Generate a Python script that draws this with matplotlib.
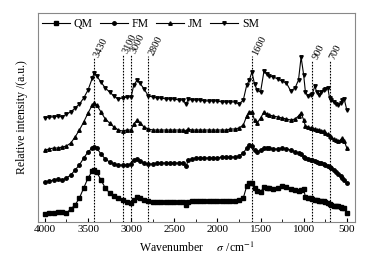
import numpy as np
import matplotlib
matplotlib.use("Agg")
import matplotlib.pyplot as plt

plt.rcParams['font.family'] = ['Liberation Serif', 'DejaVu Serif']
plt.rcParams['mathtext.fontset'] = 'stix'

# wavenumber grid (cm-1)
wn = [4000, 3950, 3900, 3850, 3800, 3750, 3700, 3650, 3600, 3550, 3500, 3450, 3430, 3400,
      3350, 3300, 3250, 3200, 3150, 3100, 3050, 3000, 2970, 2930, 2900, 2850, 2800, 2750,
      2700, 2650, 2600, 2550, 2500, 2450, 2400, 2360, 2340, 2300, 2250, 2200, 2150, 2100,
      2050, 2000, 1950, 1900, 1850, 1800, 1750, 1700, 1660, 1630, 1600, 1570, 1540, 1500,
      1460, 1430, 1400, 1350, 1300, 1250, 1200, 1150, 1100, 1060, 1030, 1000, 980, 950,
      920, 900, 870, 850, 820, 800, 770, 750, 720, 700, 680, 650, 620, 600, 570, 550, 530, 500]

qm = [8, 9, 9, 10, 10, 9, 13, 17, 24, 34, 44, 51, 52, 50,
      42, 34, 29, 26, 24, 22, 20, 19, 22, 25, 24, 22, 21, 20,
      20, 20, 20, 20, 20, 20, 20, 17, 20, 21, 21, 21, 21, 21,
      21, 21, 21, 21, 21, 21, 22, 24, 36, 39, 39, 34, 31, 30,
      35, 34, 34, 33, 34, 36, 35, 33, 32, 31, 32, 33, 25, 24,
      24, 23, 22, 22, 21, 21, 21, 20, 19, 18, 17, 16, 16, 16, 15, 14, 14, 9]

fm = [40, 41, 42, 43, 42, 44, 47, 52, 57, 64, 70, 74, 75, 74,
      68, 63, 60, 58, 57, 57, 57, 58, 62, 63, 61, 59, 58, 58,
      59, 59, 59, 59, 59, 59, 59, 56, 62, 63, 64, 64, 64, 64,
      64, 64, 65, 65, 65, 65, 66, 69, 74, 77, 76, 72, 70, 72,
      74, 74, 74, 73, 73, 74, 73, 72, 70, 69, 68, 65, 64, 63,
      62, 62, 61, 60, 59, 59, 58, 57, 56, 55, 54, 52, 50, 48, 46, 44, 42, 39]

jm = [72, 73, 74, 74, 75, 76, 79, 85, 92, 100, 109, 117, 119, 117,
      110, 103, 99, 95, 92, 91, 92, 92, 98, 102, 99, 95, 93, 92,
      92, 92, 92, 92, 92, 92, 92, 91, 93, 92, 92, 92, 92, 92,
      92, 92, 92, 92, 93, 93, 94, 97, 106, 110, 110, 102, 99, 104,
      110, 108, 107, 106, 105, 104, 103, 102, 103, 106, 109, 102, 96, 95,
      94, 94, 93, 92, 92, 91, 91, 89, 88, 86, 85, 83, 82, 81, 82, 84, 81, 74]

sm = [104, 105, 105, 106, 105, 108, 110, 114, 118, 124, 132, 144, 149, 146,
      140, 134, 130, 126, 123, 124, 125, 125, 137, 142, 139, 133, 126, 125,
      124, 124, 123, 123, 123, 122, 122, 118, 123, 122, 122, 122, 121, 121,
      121, 121, 120, 120, 120, 120, 118, 122, 137, 142, 150, 138, 132, 130,
      151, 148, 146, 145, 143, 141, 139, 131, 134, 142, 165, 147, 130, 126,
      127, 128, 136, 130, 127, 130, 132, 133, 134, 124, 122, 120, 118, 117, 119, 122, 123, 112]

series = [("QM", qm, "s"), ("FM", fm, "o"), ("JM", jm, "^"), ("SM", sm, "v")]

# marked bands and how high their dotted lines reach
bands = [3430, 3100, 3000, 2800, 1600, 900, 700]
band_tops = [164, 168, 168, 166, 166, 162, 162]

fig = plt.figure(figsize=(3.73, 2.63), dpi=100)
ax = fig.add_axes([38 / 373, 41 / 263, 317 / 373, 209 / 263])

for name, vals, mk in series:
    ax.plot(wn, vals, color="black", lw=0.8, marker=mk, ms=2.5, label=name)

for b, top in zip(bands, band_tops):
    ax.plot([b, b], [0, top], color="black", lw=0.8, ls=(0, (1.5, 1.2)))
    ax.text(b - 30, top + 1, str(b), rotation=64, rotation_mode="anchor",
            ha="left", va="center", fontsize=7.5)

ax.set_xlim(4080, 405)
ax.set_ylim(0, 209)
ax.set_xticks(np.arange(4000, 499, -500))
ax.set_xticks(np.arange(3750, 499, -500), minor=True)
ax.set_yticks([])
ax.tick_params(axis="x", direction="in", labelsize=8, length=3, pad=2)
ax.tick_params(axis="x", which="minor", direction="in", length=2)
for s in ax.spines.values():
    s.set_color("#888888")
    s.set_linewidth(0.8)

ax.set_xlabel(r"Wavenumber     $\sigma$ /cm$^{-1}$", fontsize=8.5, labelpad=5)
ax.set_ylabel("Relative intensity /(a.u.)", fontsize=8.5, labelpad=7)

ax.legend(loc="upper left", bbox_to_anchor=(-0.01, 1.01), ncol=4, frameon=False,
          fontsize=8.5, handlelength=2.4, handletextpad=0.3, columnspacing=0.6,
          borderaxespad=0.2)

fig.savefig("out.png", dpi=100)
